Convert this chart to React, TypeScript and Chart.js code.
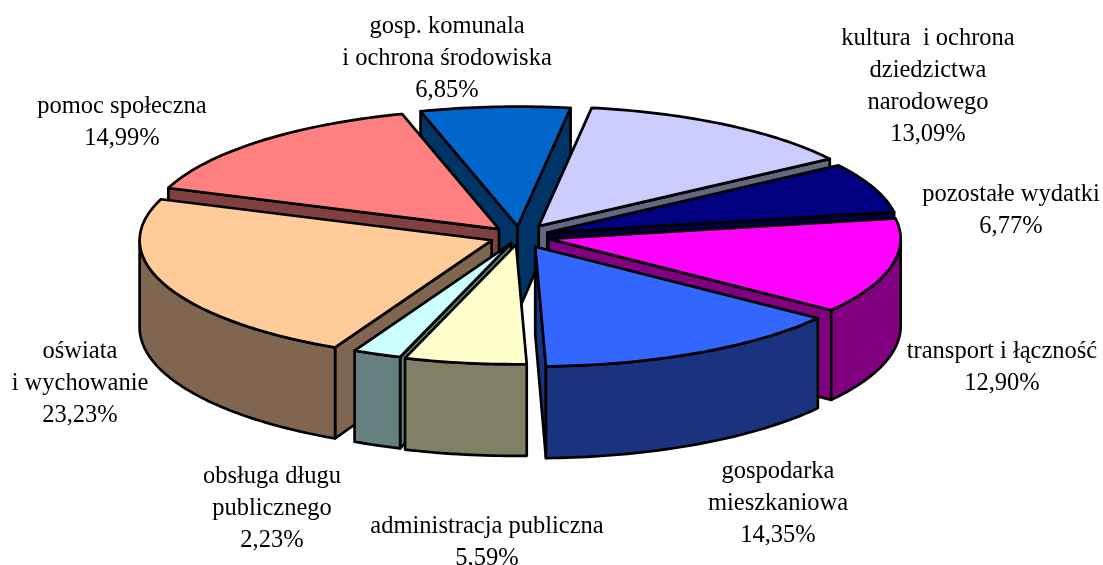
import React, { useEffect, useRef } from "react";
import { Chart, registerables } from "chart.js";

Chart.register(...registerables);

const categories = [
  ["gosp. komunala", "i ochrona środowiska"],
  ["kultura  i ochrona", "dziedzictwa", "narodowego"],
  ["pozostałe wydatki"],
  ["transport i łączność"],
  ["gospodarka", "mieszkaniowa"],
  ["administracja publiczna"],
  ["obsługa długu", "publicznego"],
  ["oświata", "i wychowanie"],
  ["pomoc społeczna"],
];
const values = [6.85, 13.09, 6.77, 12.9, 14.35, 5.59, 2.23, 23.23, 14.99];
const topColors = ["#0066CC", "#CCCCFF", "#000080", "#FF00FF", "#3366FF", "#FFFFCC", "#CCFFFF", "#FFCC99", "#FF8080"];
const sideColors = ["#003366", "#666680", "#000040", "#800080", "#1A3380", "#808066", "#668080", "#806650", "#804040"];
const explode = [30, 36, 30, 30, 34, 24, 22, 30, 30];
const labelCenters = [[447, 27], [928, 39], [1011, 195], [1002, 352], [778, 472], [487, 527], [272, 477], [80, 352], [122, 107]];

const RADIUS = 352;
const TILT = 0.34;
const DEPTH = 87;
const DEPTH_PERSPECTIVE = 0.05;
const LINE_H = 32;

const pie3d = {
  id: "pie3d",
  beforeDatasetDraw() {
    return false;
  },
  afterDatasetsDraw(chart: any) {
    const ctx = chart.ctx;
    const arcs = chart.getDatasetMeta(0).data;
    const proj = (a: any, ang: number, r: number, down: boolean) => {
      const mid = (a.startAngle + a.endAngle) / 2;
      const off = a.options.offset;
      const X = Math.cos(mid) * off + Math.cos(ang) * r;
      const Y = Math.sin(mid) * off + Math.sin(ang) * r;
      const f = 1 + (DEPTH_PERSPECTIVE * Y) / a.outerRadius;
      return [a.x + X, a.y + TILT * Y + (down ? DEPTH * f : 0)];
    };
    const poly = (pts: number[][], fill: string) => {
      ctx.beginPath();
      pts.forEach((p, i) => (i ? ctx.lineTo(p[0], p[1]) : ctx.moveTo(p[0], p[1])));
      ctx.closePath();
      ctx.fillStyle = fill;
      ctx.fill();
      ctx.stroke();
    };
    const sample = (a: any, s: number, e: number, down: boolean) => {
      const n = Math.max(2, Math.ceil((e - s) / 0.02));
      const out = [];
      for (let i = 0; i <= n; i++) out.push(proj(a, s + ((e - s) * i) / n, a.outerRadius, down));
      return out;
    };
    ctx.save();
    ctx.lineWidth = 2.7;
    ctx.lineJoin = "round";
    ctx.strokeStyle = "#000";
    const order = arcs
      .map((a: any, i: number) => ({ a, i, m: Math.sin((a.startAngle + a.endAngle) / 2) }))
      .sort((p: any, q: any) => p.m - q.m);
    for (const { a, i } of order) {
      const side = sideColors[i];
      const wall = (ang: number) =>
        poly([proj(a, ang, 0, false), proj(a, ang, a.outerRadius, false), proj(a, ang, a.outerRadius, true), proj(a, ang, 0, true)], side);
      // a radial wall is drawn only when it faces the viewer
      if (Math.cos(a.startAngle) < 0) wall(a.startAngle);
      if (Math.cos(a.endAngle) > 0) wall(a.endAngle);
      // curved outer wall: only the part that faces the viewer (sin > 0)
      const tau = Math.PI * 2;
      for (const k of [-1, 0, 1]) {
        const s = Math.max(a.startAngle, k * tau);
        const e = Math.min(a.endAngle, k * tau + Math.PI);
        if (e > s) poly([...sample(a, s, e, false), ...sample(a, s, e, true).reverse()], side);
      }
      poly([proj(a, a.startAngle, 0, false), ...sample(a, a.startAngle, a.endAngle, false)], topColors[i]);
    }
    ctx.restore();

    ctx.save();
    ctx.fillStyle = "#000";
    ctx.font = '24.5px "Liberation Serif"';
    ctx.textAlign = "center";
    ctx.textBaseline = "middle";
    categories.forEach((lines, i) => {
      const [x, y] = labelCenters[i];
      const pct = values[i].toFixed(2).replace(".", ",") + "%";
      [...lines, pct].forEach((t, j) => ctx.fillText(t, x, y + j * LINE_H));
    });
    ctx.restore();
  },
};

export default function App() {
  const ref = useRef<HTMLCanvasElement>(null);
  useEffect(() => {
    const chart = new Chart(ref.current as HTMLCanvasElement, {
      type: "pie",
      data: {
        labels: categories.map((c) => c.join(" ")),
        datasets: [{ data: values, backgroundColor: topColors, offset: explode, radius: RADIUS, borderWidth: 0 } as any],
      },
      options: {
        responsive: false,
        animation: false,
        rotation: -16,
        layout: { padding: { right: 64, bottom: 92 } },
        plugins: { legend: { display: false }, tooltip: { enabled: false } },
      },
      plugins: [pie3d],
    } as any);
    return () => chart.destroy();
  }, []);
  return (
    <div style={{ position: "fixed", left: 0, top: 0, width: 1103, height: 565, background: "#fff" }}>
      <canvas ref={ref} width={1103} height={565} style={{ display: "block" }} />
    </div>
  );
}
